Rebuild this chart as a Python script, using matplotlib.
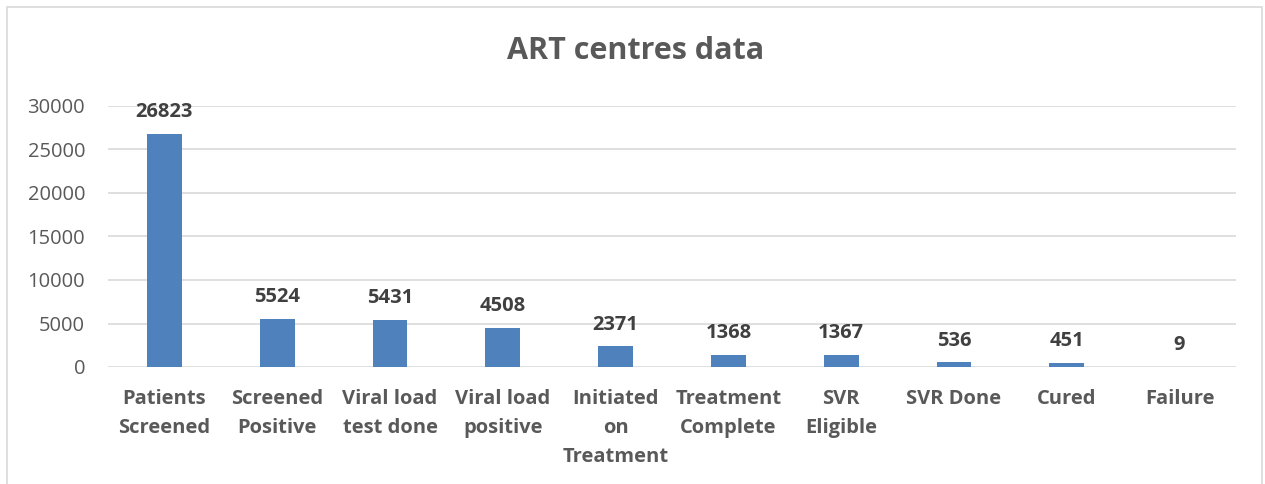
import matplotlib
matplotlib.use("Agg")
import matplotlib.pyplot as plt
from matplotlib.patches import Rectangle

categories = ["Patients\nScreened", "Screened\nPositive", "Viral load\ntest done",
              "Viral load\npositive", "Initiated\non\nTreatment", "Treatment\nComplete",
              "SVR\nEligible", "SVR Done", "Cured", "Failure"]
values = [26823, 5524, 5431, 4508, 2371, 1368, 1367, 536, 451, 9]
yticks = [0, 5000, 10000, 15000, 20000, 25000, 30000]

plt.rcParams['font.family'] = ['Open Sans', 'DejaVu Sans']

fig = plt.figure(figsize=(12.65, 4.84), dpi=100)
fig.patches.append(Rectangle((7/1265, -0.01), 1255/1265, 1 - 7/484 + 0.01,
                             transform=fig.transFigure, fill=False,
                             edgecolor='#d9d9d9', linewidth=1.2))
ax = fig.add_axes([108/1265, 1 - 367/484, 1128/1265, 261/484])

x = list(range(len(categories)))
bars = ax.bar(x, values, width=0.31, color='#4f81bd', zorder=3)
ax.set_xlim(-0.5, len(categories) - 0.5)
ax.set_ylim(0, 30000)
ax.set_yticks(yticks)
ax.set_yticklabels([str(t) for t in yticks], fontsize=14.5, color='#595959')
ax.set_xticks(x)
ax.set_xticklabels(categories, fontsize=14.5, fontweight='bold', color='#595959',
                   linespacing=1.6, va='top')
ax.tick_params(axis='both', length=0)
ax.tick_params(axis='x', pad=16)
ax.tick_params(axis='y', pad=16.5)
ax.grid(axis='y', color='#d9d9d9', linewidth=1.2, zorder=0)
for s in ax.spines.values():
    s.set_visible(False)

for xi, v in zip(x, values):
    ax.annotate(str(v), (xi, v), xytext=(0, 8.5), textcoords='offset points',
                ha='center', va='bottom', fontsize=14.5, fontweight='bold',
                color='#404040')

fig.text(636/1265, 1 - 51/484, "ART centres data", ha='center', va='center',
         fontsize=22, fontweight='bold', color='#595959')

fig.savefig("out.png", dpi=100)
